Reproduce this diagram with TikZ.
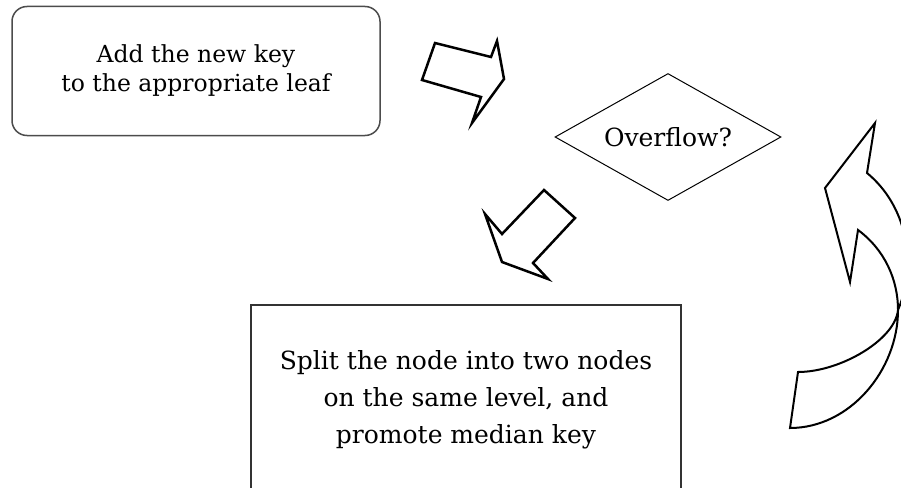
\documentclass[tikz,border=0pt]{standalone}
\usepackage{fontspec}
\setmainfont{DejaVu Serif}
\usetikzlibrary{shapes.geometric}
\begin{document}
\begin{tikzpicture}[x=1pt,y=-1pt,
  boxtext/.style={align=center, text=black},
  roundbox/.style={boxtext, font=\fontsize{23.5}{29}\selectfont,
    draw=black!70, line width=1.5pt, rounded corners=15pt,
    minimum width=368pt, minimum height=129pt, inner sep=0pt},
  decision/.style={boxtext, font=\fontsize{25}{30}\selectfont,
    draw=black, line width=1pt, diamond, aspect=2,
    minimum width=226pt, minimum height=127pt, inner sep=0pt},
  plainbox/.style={boxtext, font=\fontsize{25}{37}\selectfont,
    draw=black!80, line width=2pt,
    minimum width=430pt, minimum height=190pt, inner sep=0pt},
  blockarrow/.style={draw=black, line width=2.5pt, line join=miter, fill=white}]
\clip (0,0) rectangle (901,487);
\fill[white] (0,0) rectangle (901,487);

% process boxes and the decision
\node[roundbox] (leaf) at (196,71) {Add the new key\\to the appropriate leaf};
\node[decision] (ovf) at (668,137) {Overflow?};
\node[plainbox] (split) at (466,400) {Split the node into two nodes\\on the same level, and\\promote median key};

% block arrow from the leaf box towards the decision
\draw[blockarrow] (435,43) -- (491,57) -- (497,41) -- (504,79) -- (472,123)
  -- (481,97) -- (422,80) -- cycle;

% block arrow from the decision down to the split box
\draw[blockarrow] (544,190) -- (575,218) -- (533,263) -- (548,279)
  -- (502,262) -- (485,214) -- (502,234) -- cycle;

% curved arrow sweeping back up to the decision
\draw[blockarrow, line width=2pt]
  (798,372) -- (790,428)
  .. controls (850,428) and (898,370) .. (898,310)
  .. controls (918,262) and (906,205) .. (867,173)
  -- (875,123) -- (825,188) -- (850,282) -- (858,230)
  .. controls (885,250) and (898,280) .. (898,310)
  .. controls (895,340) and (840,372) .. (798,372) -- cycle;
\end{tikzpicture}
\end{document}
